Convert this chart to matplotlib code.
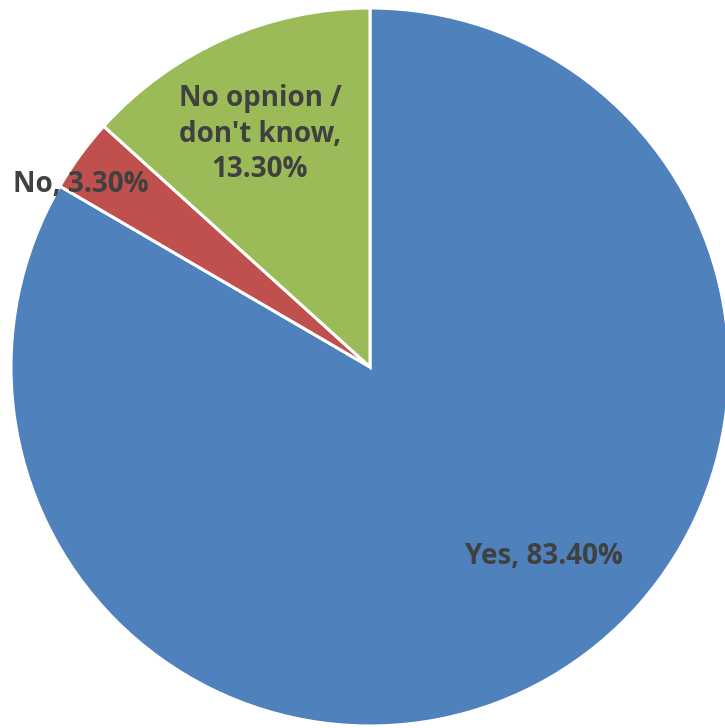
import matplotlib.pyplot as plt

# Survey answers
labels = ["Yes", "No", "No opnion /\ndon't know"]
shares = [83.4, 3.3, 13.3]
colors = ["#4F81BD", "#C0504D", "#9BBB59"]

W, H = 725, 728
fig = plt.figure(figsize=(W / 100, H / 100), dpi=100)
ax = fig.add_axes([0, 0, 1, 1])

cx, cy, r = 370, H - 367, 359
wedges, _ = ax.pie(
    shares,
    colors=colors,
    startangle=90,
    counterclock=False,
    center=(cx, cy),
    radius=r,
    wedgeprops=dict(edgecolor="white", linewidth=2.2),
    frame=True,
)
ax.set_xlim(0, W)
ax.set_ylim(0, H)
ax.set_aspect("equal")
ax.axis("off")

font = dict(family=["Open Sans", "DejaVu Sans"], fontsize=20, fontweight="bold",
            color="#404040", ha="center", va="center", linespacing=1.3)

# label positions in pixel coords (x, y from top)
label_pos = [(544, 556), (81, 185), (260, 134)]
for lab, val, (px, py) in zip(labels, shares, label_pos):
    ax.text(px, H - py, f"{lab}, {val:.2f}%" if "\n" not in lab else f"{lab},\n{val:.2f}%",
            **font)

fig.savefig("out.png", dpi=100)
